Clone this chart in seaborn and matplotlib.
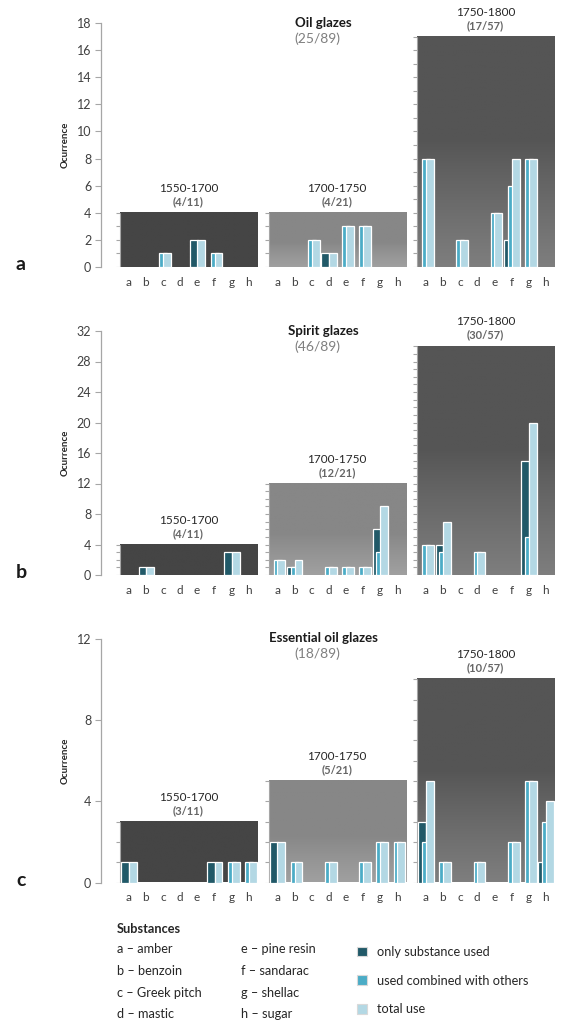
import numpy as np
import pandas as pd
import matplotlib
matplotlib.use("Agg")
import matplotlib.pyplot as plt
import seaborn as sns
from matplotlib.patches import Patch

sns.set_theme(style="white")
plt.rcParams["font.family"] = ["Lato", "DejaVu Sans"]

# ---- data ----
substances = ["a", "b", "c", "d", "e", "f", "g", "h"]
substance_names = ["amber", "benzoin", "Greek pitch", "mastic",
                   "pine resin", "sandarac", "shellac", "sugar"]
periods = ["1550-1700", "1700-1750", "1750-1800"]
period_totals = [11, 21, 57]
all_samples = 89

glaze_names = ["Oil glazes", "Spirit glazes", "Essential oil glazes"]
panel_letters = ["a", "b", "c"]
series_names = ["only substance used", "used combined with others", "total use"]

# samples of each glaze type per period (height of grey boxes)
oil_samples = [4, 4, 17]
oil_only = [[0, 0, 0, 0, 2, 0, 0, 0], [0, 0, 0, 1, 0, 0, 0, 0], [0, 0, 0, 0, 0, 2, 0, 0]]
oil_combined = [[0, 0, 1, 0, 0, 1, 0, 0], [0, 0, 2, 0, 3, 3, 0, 0], [8, 0, 2, 0, 4, 6, 8, 0]]
oil_total = [[0, 0, 1, 0, 2, 1, 0, 0], [0, 0, 2, 1, 3, 3, 0, 0], [8, 0, 2, 0, 4, 8, 8, 0]]

spirit_samples = [4, 12, 30]
spirit_only = [[0, 1, 0, 0, 0, 0, 3, 0], [0, 1, 0, 0, 0, 0, 6, 0], [0, 4, 0, 0, 0, 0, 15, 0]]
spirit_combined = [[0, 0, 0, 0, 0, 0, 0, 0], [2, 1, 0, 1, 1, 1, 3, 0], [4, 3, 0, 3, 0, 0, 5, 0]]
spirit_total = [[0, 1, 0, 0, 0, 0, 3, 0], [2, 2, 0, 1, 1, 1, 9, 0], [4, 7, 0, 3, 0, 0, 20, 0]]

ess_samples = [3, 5, 10]
ess_only = [[1, 0, 0, 0, 0, 1, 0, 0], [2, 0, 0, 0, 0, 0, 0, 0], [3, 0, 0, 0, 0, 0, 0, 1]]
ess_combined = [[0, 0, 0, 0, 0, 0, 1, 1], [0, 1, 0, 1, 0, 1, 2, 2], [2, 1, 0, 1, 0, 2, 5, 3]]
ess_total = [[1, 0, 0, 0, 0, 1, 1, 1], [2, 1, 0, 1, 0, 1, 2, 2], [5, 1, 0, 1, 0, 2, 5, 4]]

y_max = [18, 32, 12]
y_step = [2, 4, 4]

panels = [
    (oil_samples, oil_only, oil_combined, oil_total),
    (spirit_samples, spirit_only, spirit_combined, spirit_total),
    (ess_samples, ess_only, ess_combined, ess_total),
]

# ---- styling ----
colors = ["#215968", "#4bacc6", "#b3d8e4"]
offsets = [-0.19, 0.03, 0.25]
bar_w = 0.46
group_step = 8.67
x_lim = (-1.61, 24.95)
axes_bottoms = [1 - 267 / 1024, 1 - 575 / 1024, 1 - 882.5 / 1024]
axes_h = 244 / 1024
box_shades = [(69, 69, 0.5), (135, 160, 0.45), (85, 126, 0.55)]


def gradient(top, bottom, start, n=200):
    t = np.linspace(0, 1, n)
    w = np.clip((start - t) / start, 0, 1) ** 0.9
    g = (top + (bottom - top) * w) / 255
    return np.dstack([g, g, g]).reshape(n, 1, 3)


fig = plt.figure(figsize=(5.79, 10.24), dpi=100)

for k, (samples, only, comb, total) in enumerate(panels):
    ax = fig.add_axes([101 / 579, axes_bottoms[k], 455 / 579, axes_h])

    # grey boxes, one per period
    for g in range(3):
        x0 = g * group_step - 0.5
        x1 = x0 + 8
        top, bottom, start = box_shades[g]
        ax.imshow(gradient(top, bottom, start), extent=[x0, x1, 0, samples[g]],
                  origin="lower", aspect="auto", zorder=0, interpolation="bilinear")
        ax.hlines(np.arange(0, samples[g] + 1), x0 - 0.22, x0, colors="#a6a6a6", lw=0.8)
        ax.vlines(x0, 0, samples[g], colors="#a6a6a6", lw=0.8)
        cx = g * group_step + 3.5
        ax.annotate(periods[g], (cx, samples[g]), xytext=(0, 17.5),
                    textcoords="offset points", ha="center", va="center",
                    fontsize=8.5, color="#262626")
        ax.annotate(f"({samples[g]}/{period_totals[g]})", (cx, samples[g]),
                    xytext=(0, 8), textcoords="offset points", ha="center",
                    va="center", fontsize=8, weight="bold", color="#666666")

    # bars: three overlapping series
    for s, values in enumerate([only, comb, total]):
        rows = []
        for g in range(3):
            for i, sub in enumerate(substances):
                rows.append({"pos": g * group_step + i + offsets[s],
                             "value": values[g][i]})
        df = pd.DataFrame(rows)
        sns.barplot(data=df, x="pos", y="value", native_scale=True, width=bar_w,
                    color=colors[s], saturation=1, edgecolor="white",
                    linewidth=0.9, errorbar=None, ax=ax, zorder=2 + s)
    for p in ax.patches:
        if p.get_height() == 0:
            p.set_linewidth(0)

    ax.set_xlim(*x_lim)
    ax.set_ylim(0, y_max[k])
    ax.set_yticks(np.arange(0, y_max[k] + 1, y_step[k]))
    xt = [g * group_step + i for g in range(3) for i in range(8)]
    ax.set_xticks(xt)
    ax.set_xticklabels(substances * 3)
    ax.set_xlabel("")
    ax.set_ylabel("Ocurrence", fontsize=7, weight="bold", color="#262626")
    ax.yaxis.set_label_coords(-0.068, 0.5)
    for side in ["top", "right", "bottom"]:
        ax.spines[side].set_visible(False)
    ax.spines["left"].set_color("#a6a6a6")
    ax.spines["left"].set_linewidth(0.9)
    ax.tick_params(axis="y", length=4, width=0.8, color="#a6a6a6",
                   labelsize=9, labelcolor="#404040", pad=3, left=True)
    ax.tick_params(axis="x", length=0, labelsize=8.5, labelcolor="#404040", pad=7)
    ax.set_facecolor("none")

    total_n = sum(samples)
    ax.text(0.488, 1.0, glaze_names[k], transform=ax.transAxes, ha="center",
            va="center", fontsize=9.5, weight="bold", color="#1a1a1a")
    ax.annotate(f"({total_n}/{all_samples})", (0.476, 1.0), xycoords="axes fraction",
                xytext=(0, -11), textcoords="offset points", ha="center",
                va="center", fontsize=10, color="#7f7f7f")

    fig.text(16 / 579, (axes_bottoms[k] * 1024 + 2) / 1024, panel_letters[k],
             fontsize=14, weight="bold", va="center", ha="left", color="#1a1a1a")

# ---- key ----
fig.text(117 / 579, 1 - 929 / 1024, "Substances", fontsize=9.2, weight="bold",
         va="center", color="#262626")
key_y = [949, 971, 993, 1014]
for i, (sub, name) in enumerate(zip(substances, substance_names)):
    col, row = divmod(i, 4)
    fig.text((117 + col * 124) / 579, 1 - key_y[row] / 1024, f"{sub} \u2013 {name}",
             fontsize=9.2, va="center", color="#262626")

handles = [Patch(facecolor=c, edgecolor="#d9d9d9", linewidth=0.8) for c in colors]
fig.legend(handles, series_names, loc="upper left",
           bbox_to_anchor=(357 / 579, 1 - 946 / 1024), frameon=False,
           fontsize=9.2, handlelength=0.8, handleheight=0.8, handletextpad=0.8,
           labelspacing=1.3, borderpad=0, borderaxespad=0, labelcolor="#262626")

fig.savefig("out.png", dpi=100)
